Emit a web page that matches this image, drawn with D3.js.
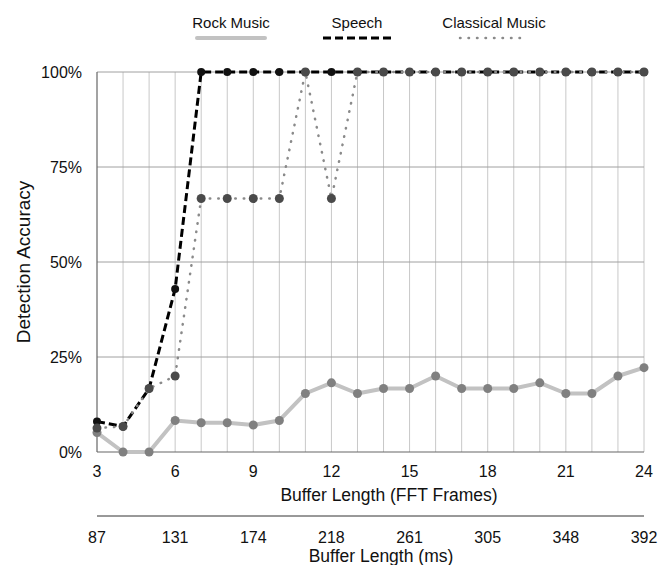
<!DOCTYPE html>
<html>
<head>
<meta charset="utf-8">
<script src="https://cdn.jsdelivr.net/npm/d3@7"></script>
<style>
  body { margin: 0; background: #fff; }
  text { font-family: "Liberation Sans", Arial, Helvetica, sans-serif; fill: #111; }
</style>
</head>
<body>
<svg id="chart"></svg>
<script>
// buffer lengths (FFT frames) and matching ms labels
const frames = [3, 4, 5, 6, 7, 8, 9, 10, 11, 12, 13, 14, 15, 16, 17, 18, 19, 20, 21, 22, 23, 24];
const frameTicks = [3, 6, 9, 12, 15, 18, 21, 24];
const msTicks = ["87", "131", "174", "218", "261", "305", "348", "392"];
const yTicks = [0, 25, 50, 75, 100];

// detection accuracy in %
const rock = [5.1, 0, 0, 8.3, 7.7, 7.7, 7.1, 8.3, 15.4, 18.2, 15.4, 16.7, 16.7, 20, 16.7, 16.7, 16.7, 18.2, 15.4, 15.4, 20, 22.2];
const speech = [8, 6.7, 16.7, 42.9, 100, 100, 100, 100, 100, 100, 100, 100, 100, 100, 100, 100, 100, 100, 100, 100, 100, 100];
const classical = [6.3, 6.7, 16.7, 20, 66.7, 66.7, 66.7, 66.7, 100, 66.7, 100, 100, 100, 100, 100, 100, 100, 100, 100, 100, 100, 100];

const width = 660, height = 565;
const plotLeft = 97, plotRight = 644, plotTop = 72, plotBottom = 452;

const svg = d3.select("#chart").attr("width", width).attr("height", height);

const x = d3.scaleLinear().domain([3, 24]).range([plotLeft, plotRight]);
const y = d3.scaleLinear().domain([0, 100]).range([plotBottom, plotTop]);

// vertical grid
svg.append("g").selectAll("line")
  .data(frames.slice(1))
  .enter().append("line")
  .attr("x1", d => x(d)).attr("x2", d => x(d))
  .attr("y1", plotTop).attr("y2", plotBottom)
  .attr("stroke", "#c8c8c8").attr("stroke-width", 1);

// horizontal grid
svg.append("g").selectAll("line")
  .data(yTicks.slice(1))
  .enter().append("line")
  .attr("x1", plotLeft).attr("x2", plotRight)
  .attr("y1", d => y(d)).attr("y2", d => y(d))
  .attr("stroke", "#a0a0a0").attr("stroke-width", 1);

// axes lines
svg.append("line").attr("x1", plotLeft).attr("x2", plotLeft).attr("y1", plotTop).attr("y2", plotBottom)
  .attr("stroke", "#666").attr("stroke-width", 1.2);
svg.append("line").attr("x1", plotLeft).attr("x2", plotRight).attr("y1", plotBottom).attr("y2", plotBottom)
  .attr("stroke", "#666").attr("stroke-width", 1.2);

// y tick labels
svg.append("g").selectAll("text")
  .data(yTicks)
  .enter().append("text")
  .attr("x", 82).attr("y", d => y(d) + 6)
  .attr("text-anchor", "end").attr("font-size", 16)
  .text(d => d + "%");

// x tick labels (frames)
svg.append("g").selectAll("text")
  .data(frameTicks)
  .enter().append("text")
  .attr("x", d => x(d)).attr("y", 477)
  .attr("text-anchor", "middle").attr("font-size", 16)
  .text(d => d);

svg.append("text").attr("x", 389).attr("y", 501)
  .attr("text-anchor", "middle").attr("font-size", 17.5)
  .text("Buffer Length (FFT Frames)");

// secondary ms axis
svg.append("line").attr("x1", plotLeft).attr("x2", plotRight).attr("y1", 516).attr("y2", 516)
  .attr("stroke", "#333").attr("stroke-width", 1);

svg.append("g").selectAll("text")
  .data(msTicks)
  .enter().append("text")
  .attr("x", (d, i) => x(frameTicks[i])).attr("y", 543)
  .attr("text-anchor", "middle").attr("font-size", 16)
  .text(d => d);

svg.append("text").attr("x", 381).attr("y", 561.5)
  .attr("text-anchor", "middle").attr("font-size", 17.5)
  .text("Buffer Length (ms)");

// y title
svg.append("text")
  .attr("transform", `translate(30, ${(plotTop + plotBottom) / 2}) rotate(-90)`)
  .attr("text-anchor", "middle").attr("font-size", 19)
  .text("Detection Accuracy");

const line = d3.line().x((d, i) => x(frames[i])).y(d => y(d));

const series = [
  { name: "Rock Music", data: rock, stroke: "#c2c2c2", width: 4, dash: null, cap: "round", dot: "#808080", r: 4.5, lx: 231 },
  { name: "Speech", data: speech, stroke: "#000", width: 3, dash: "8 4", cap: "butt", dot: "#111", r: 4, lx: 357 },
  { name: "Classical Music", data: classical, stroke: "#8a8a8a", width: 2.5, dash: "0.5 8", cap: "round", dot: "#4a4a4a", r: 4.5, lx: 494 }
];

series.forEach(s => {
  svg.append("path")
    .datum(s.data)
    .attr("d", line)
    .attr("fill", "none")
    .attr("stroke", s.stroke)
    .attr("stroke-width", s.width)
    .attr("stroke-dasharray", s.dash)
    .attr("stroke-linecap", s.cap)
    .attr("stroke-linejoin", "round");

  svg.append("g").selectAll("circle")
    .data(s.data)
    .enter().append("circle")
    .attr("cx", (d, i) => x(frames[i]))
    .attr("cy", d => y(d))
    .attr("r", s.r)
    .attr("fill", s.dot);

  // legend
  svg.append("text").attr("x", s.lx).attr("y", 28)
    .attr("text-anchor", "middle").attr("font-size", 15)
    .text(s.name);
  svg.append("line")
    .attr("x1", s.lx - 34).attr("x2", s.lx + 34)
    .attr("y1", 38).attr("y2", 38)
    .attr("stroke", s.stroke)
    .attr("stroke-width", s.width)
    .attr("stroke-dasharray", s.dash)
    .attr("stroke-linecap", s.cap);
});
</script>
</body>
</html>
